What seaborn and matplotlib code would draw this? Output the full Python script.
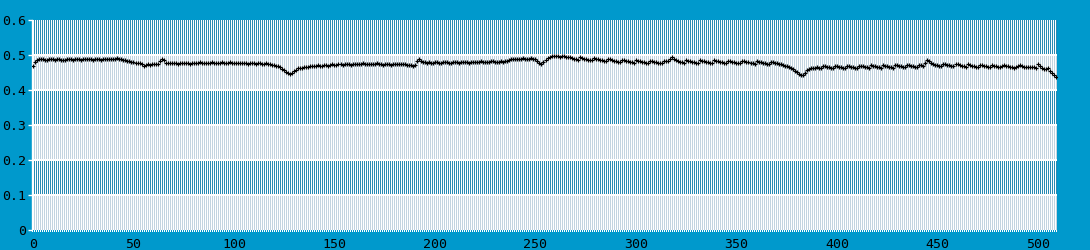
import matplotlib
matplotlib.use("Agg")
import matplotlib.pyplot as plt
from matplotlib.colors import to_rgb
import seaborn as sns
import numpy as np

# ---- data ----
values_000 = [0.469, 0.480, 0.485, 0.488, 0.489, 0.489, 0.487, 0.486, 0.488, 0.489,
              0.488, 0.487, 0.489, 0.488, 0.486, 0.485, 0.487, 0.488, 0.489, 0.488,
              0.487, 0.488, 0.489, 0.488, 0.486, 0.488, 0.489, 0.490, 0.489, 0.488,
              0.487, 0.488, 0.489, 0.488, 0.487, 0.488, 0.489, 0.490, 0.489, 0.488,
              0.489, 0.490, 0.491, 0.490, 0.488, 0.487, 0.485, 0.484, 0.482, 0.481]
values_050 = [0.479, 0.478, 0.477, 0.476, 0.474, 0.469, 0.471, 0.473, 0.472, 0.474,
              0.473, 0.474, 0.475, 0.483, 0.488, 0.486, 0.478, 0.476, 0.477, 0.476,
              0.477, 0.476, 0.475, 0.477, 0.478, 0.476, 0.477, 0.476, 0.475, 0.477,
              0.478, 0.477, 0.478, 0.479, 0.477, 0.476, 0.478, 0.477, 0.478, 0.479,
              0.478, 0.477, 0.476, 0.478, 0.479, 0.478, 0.477, 0.478, 0.479, 0.478]
values_100 = [0.477, 0.476, 0.478, 0.477, 0.476, 0.478, 0.477, 0.475, 0.476, 0.477,
              0.476, 0.475, 0.476, 0.477, 0.475, 0.474, 0.476, 0.475, 0.473, 0.472,
              0.471, 0.470, 0.468, 0.466, 0.461, 0.456, 0.451, 0.448, 0.446, 0.450,
              0.454, 0.458, 0.462, 0.464, 0.463, 0.465, 0.467, 0.466, 0.468, 0.469,
              0.468, 0.470, 0.471, 0.469, 0.470, 0.472, 0.471, 0.470, 0.472, 0.473]
values_150 = [0.472, 0.471, 0.473, 0.474, 0.472, 0.473, 0.474, 0.473, 0.472, 0.474,
              0.475, 0.474, 0.473, 0.475, 0.476, 0.474, 0.473, 0.475, 0.474, 0.473,
              0.475, 0.476, 0.474, 0.473, 0.472, 0.474, 0.475, 0.473, 0.472, 0.474,
              0.475, 0.474, 0.473, 0.474, 0.475, 0.473, 0.472, 0.471, 0.472, 0.470,
              0.471, 0.484, 0.489, 0.484, 0.481, 0.479, 0.478, 0.479, 0.478, 0.477]
values_200 = [0.479, 0.480, 0.478, 0.477, 0.479, 0.480, 0.479, 0.478, 0.477, 0.479,
              0.480, 0.479, 0.478, 0.480, 0.481, 0.480, 0.479, 0.478, 0.480, 0.481,
              0.480, 0.479, 0.481, 0.482, 0.481, 0.480, 0.479, 0.481, 0.482, 0.484,
              0.481, 0.480, 0.481, 0.482, 0.481, 0.483, 0.484, 0.486, 0.488, 0.489,
              0.490, 0.489, 0.488, 0.490, 0.491, 0.490, 0.489, 0.490, 0.491, 0.490]
values_250 = [0.488, 0.484, 0.478, 0.474, 0.479, 0.486, 0.491, 0.494, 0.496, 0.497,
              0.498, 0.497, 0.495, 0.496, 0.497, 0.495, 0.494, 0.493, 0.491, 0.490,
              0.488, 0.487, 0.493, 0.492, 0.490, 0.489, 0.487, 0.486, 0.485, 0.491,
              0.490, 0.488, 0.487, 0.485, 0.484, 0.483, 0.489, 0.488, 0.486, 0.484,
              0.483, 0.481, 0.480, 0.487, 0.486, 0.484, 0.483, 0.481, 0.479, 0.478]
values_300 = [0.485, 0.484, 0.482, 0.481, 0.479, 0.478, 0.477, 0.484, 0.483, 0.481,
              0.480, 0.478, 0.477, 0.476, 0.483, 0.482, 0.484, 0.490, 0.494, 0.489,
              0.485, 0.483, 0.481, 0.480, 0.478, 0.485, 0.484, 0.482, 0.481, 0.479,
              0.478, 0.477, 0.485, 0.484, 0.482, 0.481, 0.479, 0.478, 0.477, 0.485,
              0.484, 0.482, 0.480, 0.479, 0.477, 0.476, 0.484, 0.483, 0.481, 0.480]
values_350 = [0.478, 0.477, 0.476, 0.483, 0.482, 0.480, 0.479, 0.477, 0.476, 0.475,
              0.482, 0.481, 0.479, 0.478, 0.476, 0.475, 0.474, 0.480, 0.479, 0.477,
              0.476, 0.475, 0.473, 0.472, 0.470, 0.468, 0.466, 0.463, 0.459, 0.455,
              0.451, 0.447, 0.444, 0.443, 0.449, 0.456, 0.461, 0.463, 0.462, 0.464,
              0.466, 0.464, 0.463, 0.469, 0.468, 0.466, 0.465, 0.463, 0.462, 0.469]
values_400 = [0.468, 0.467, 0.465, 0.464, 0.462, 0.470, 0.469, 0.467, 0.466, 0.464,
              0.463, 0.470, 0.469, 0.468, 0.466, 0.465, 0.463, 0.471, 0.470, 0.468,
              0.467, 0.465, 0.464, 0.471, 0.470, 0.469, 0.467, 0.466, 0.464, 0.472,
              0.471, 0.469, 0.468, 0.466, 0.465, 0.472, 0.471, 0.470, 0.468, 0.467,
              0.465, 0.472, 0.471, 0.470, 0.478, 0.485, 0.482, 0.476, 0.474, 0.472]
values_450 = [0.471, 0.469, 0.468, 0.475, 0.474, 0.472, 0.471, 0.469, 0.468, 0.474,
              0.473, 0.471, 0.470, 0.468, 0.467, 0.473, 0.472, 0.470, 0.469, 0.467,
              0.466, 0.472, 0.471, 0.469, 0.468, 0.466, 0.465, 0.471, 0.470, 0.468,
              0.467, 0.466, 0.469, 0.471, 0.470, 0.468, 0.467, 0.465, 0.464, 0.466,
              0.469, 0.471, 0.469, 0.467, 0.466, 0.466, 0.465, 0.467, 0.466, 0.464,
              0.473, 0.470, 0.463, 0.461, 0.460, 0.462, 0.454, 0.448, 0.442, 0.436]

series = (values_000 + values_050 + values_100 + values_150 + values_200 +
          values_250 + values_300 + values_350 + values_400 + values_450)
x_index = list(range(len(series)))

y_ticks = [0, 0.1, 0.2, 0.3, 0.4, 0.5, 0.6]
y_tick_labels = ["0", "0.1", "0.2", "0.3", "0.4", "0.5", "0.6"]
x_ticks = [0, 50, 100, 150, 200, 250, 300, 350, 400, 450, 500]
x_tick_labels = [str(v) for v in x_ticks]

# ---- style ----
BG = "#0099cc"
DARK = "#2a8cb4"
LIGHT = "#c2d4e0"

sns.set_style("white")
plt.rcParams["font.family"] = ["DejaVu Sans Mono", "DejaVu Sans"]

W_PX, H_PX = 1025, 210
fig = plt.figure(figsize=(10.9, 2.5), dpi=100, facecolor=BG)
ax = fig.add_axes([32 / 1090, 20 / 250, W_PX / 1090, H_PX / 250])
ax.set_facecolor("white")

xmin, xmax = -0.5, 509.5

# background texture: pixel-aligned vertical stripes, alternating band tones
tex = np.ones((H_PX, W_PX, 3))
dark_rgb, light_rgb = np.array(to_rgb(DARK)), np.array(to_rgb(LIGHT))
band_h = H_PX // 6
for r in range(H_PX):
    band = 5 - r // band_h
    col = dark_rgb if band % 2 == 1 else light_rgb
    tex[r, 0::2, :] = col
ax.imshow(tex, extent=(xmin, xmax, 0, 0.6), aspect="auto",
          interpolation="nearest", zorder=0)
ax.hlines([0.1, 0.2, 0.3, 0.4, 0.5], xmin, xmax, colors="white",
          linewidth=1.2, antialiased=False, zorder=2)

sns.scatterplot(x=x_index, y=series, marker="+", s=7, color="black",
                linewidth=0.85, ax=ax, zorder=5, legend=False)

ax.set_xlim(xmin, xmax)
ax.set_ylim(0, 0.6)
ax.set_yticks(y_ticks)
ax.set_yticklabels(y_tick_labels)
ax.set_xticks(x_ticks)
ax.set_xticklabels(x_tick_labels)
ax.tick_params(axis="y", which="major", direction="out", length=3, width=1,
               color="white", labelcolor="black", labelsize=9.5, pad=1.5, left=True)
ax.tick_params(axis="x", which="major", direction="out", length=0,
               labelcolor="black", labelsize=9.5, pad=6, bottom=True)
ax.set_xlabel("")
ax.set_ylabel("")

for s in ["top", "right", "bottom"]:
    ax.spines[s].set_visible(False)
ax.spines["left"].set_color("white")
ax.spines["left"].set_linewidth(1)

# small white tick comb under the plot area
comb = np.tile(np.array(to_rgb(BG)), (2, W_PX, 1))
comb[:, 0::2, :] = 1.0
fig.figimage(comb, xo=32, yo=18, zorder=3)

fig.savefig("out.png", dpi=100, facecolor=BG)
